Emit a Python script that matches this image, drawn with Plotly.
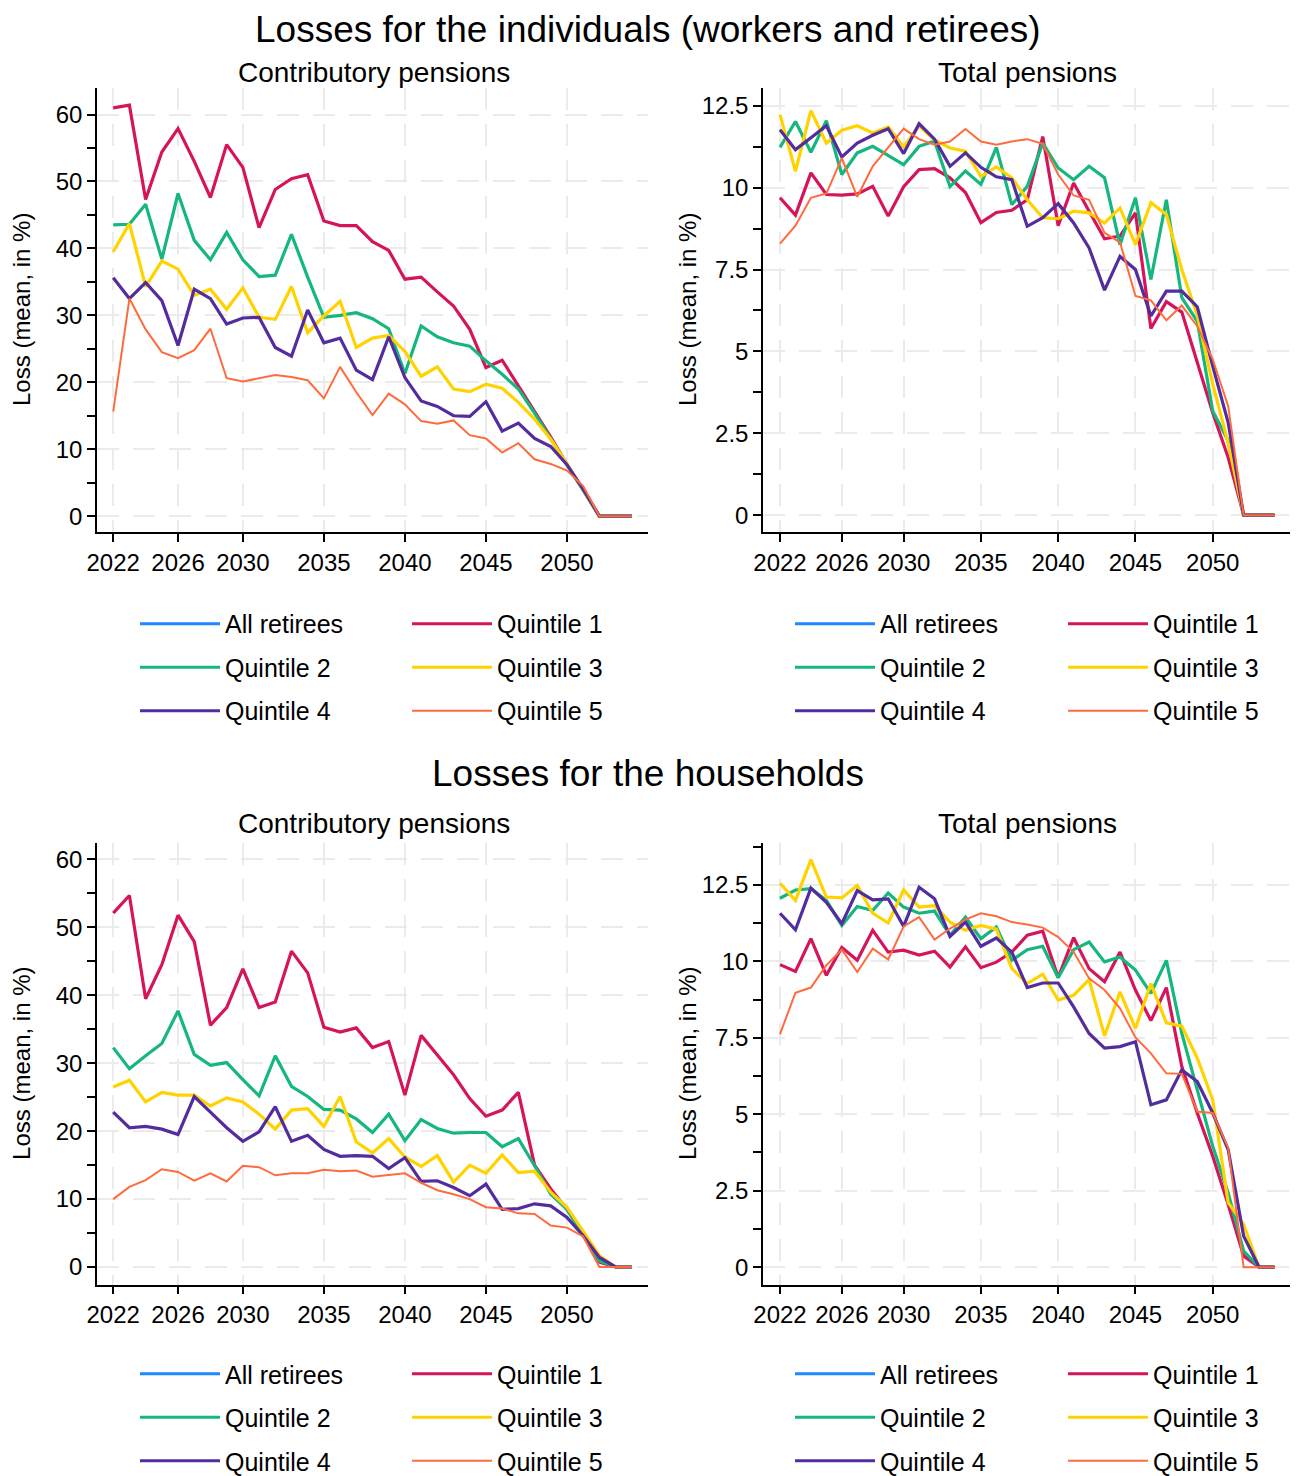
import plotly.graph_objects as go

W, H = 1301, 1476
OFF = 8  # default page body margin

years = list(range(2022, 2055))
series_names = ["All retirees", "Quintile 1", "Quintile 2", "Quintile 3", "Quintile 4", "Quintile 5"]
colors = ["#1E88FF", "#D6145C", "#15B77E", "#FFD200", "#532D9E", "#FF6B3D"]
widths = [3.2, 3.2, 3.2, 3.2, 3.2, 2]

x_tickvals = [2022, 2026, 2030, 2035, 2040, 2045, 2050]

# ---- Individuals, contributory pensions (loss, %) ----
ind_con_all = [None] * 33
ind_con_q1 = [61.0, 61.4, 47.3, 54.4, 57.9, 53.0, 47.6, 55.5, 52.1, 43.1, 48.8, 50.4, 51.0, 44.1, 43.4, 43.4, 41.0,
              39.7, 35.4, 35.7, 33.5, 31.4, 27.9, 22.2, 23.3, 19.5, 15.6, 11.8, 7.7, 4.0, 0, 0, 0]
ind_con_q2 = [43.5, 43.6, 46.6, 38.4, 48.2, 41.2, 38.3, 42.4, 38.3, 35.8, 36.0, 42.1, 35.7, 29.7, 30.0, 30.4, 29.5,
              28.0, 21.3, 28.4, 26.8, 25.9, 25.4, 23.2, 21.2, 19.0, 15.4, 11.6, 7.7, 4.0, 0, 0, 0]
ind_con_q3 = [39.5, 43.7, 34.3, 38.1, 36.9, 33.0, 33.9, 30.9, 34.1, 29.7, 29.4, 34.3, 27.4, 29.9, 32.1, 25.2, 26.6,
              27.0, 24.6, 20.9, 22.3, 19.0, 18.6, 19.7, 19.1, 17.0, 14.5, 11.5, 7.8, 4.0, 0, 0, 0]
ind_con_q4 = [35.6, 32.5, 34.9, 32.2, 25.5, 33.9, 32.5, 28.7, 29.6, 29.7, 25.2, 23.9, 30.8, 25.9, 26.6, 21.8, 20.4,
              26.8, 20.7, 17.2, 16.4, 15.0, 14.9, 17.1, 12.7, 13.9, 11.6, 10.4, 7.7, 4.0, 0, 0, 0]
ind_con_q5 = [15.6, 32.5, 27.9, 24.5, 23.6, 24.8, 28.0, 20.6, 20.1, 20.6, 21.1, 20.8, 20.3, 17.6, 22.3, 18.5, 15.1,
              18.3, 16.7, 14.2, 13.8, 14.3, 12.1, 11.6, 9.5, 10.9, 8.5, 7.8, 6.8, 4.5, 0, 0, 0]

# ---- Individuals, total pensions ----
ind_tot_all = [None] * 33
ind_tot_q1 = [9.69, 9.16, 10.45, 9.79, 9.77, 9.81, 10.04, 9.13, 10.03, 10.55, 10.58, 10.3, 9.85, 8.93, 9.24, 9.31,
              9.63, 11.56, 8.84, 10.14, 9.28, 8.44, 8.52, 9.23, 5.70, 6.52, 6.2, 4.7, 3.13, 1.76, 0, 0, 0]
ind_tot_q2 = [11.23, 12.02, 11.08, 12.04, 10.4, 11.06, 11.26, 10.98, 10.7, 11.26, 11.42, 10.03, 10.51, 10.1, 11.23,
              9.48, 10.04, 11.36, 10.6, 10.24, 10.65, 10.3, 8.26, 9.69, 7.2, 9.63, 6.64, 5.92, 3.18, 2.27, 0, 0, 0]
ind_tot_q3 = [12.23, 10.5, 12.35, 11.36, 11.75, 11.89, 11.67, 11.85, 11.24, 11.89, 11.46, 11.21, 11.11, 10.34, 10.63,
              10.3, 9.63, 9.08, 9.05, 9.28, 9.23, 8.92, 9.38, 8.26, 9.54, 9.18, 7.5, 6.1, 4.0, 2.2, 0, 0, 0]
ind_tot_q4 = [11.77, 11.16, 11.52, 11.89, 10.94, 11.36, 11.6, 11.8, 11.04, 11.95, 11.48, 10.65, 11.06, 10.62, 10.33,
              10.24, 8.82, 9.08, 9.51, 8.92, 8.16, 6.87, 7.9, 7.5, 6.08, 6.84, 6.84, 6.36, 4.55, 2.83, 0, 0, 0]
ind_tot_q5 = [8.29, 8.84, 9.69, 9.82, 10.9, 9.72, 10.65, 11.21, 11.8, 11.48, 11.31, 11.41, 11.79, 11.41, 11.31, 11.41,
              11.48, 11.34, 10.4, 9.76, 9.63, 8.62, 8.33, 6.69, 6.56, 5.95, 6.4, 5.77, 4.76, 3.33, 0, 0, 0]

# ---- Households, contributory pensions ----
hh_con_all = [None] * 33
hh_con_q1 = [52.1, 54.7, 39.5, 44.5, 51.8, 47.9, 35.6, 38.2, 43.9, 38.2, 39.0, 46.5, 43.3, 35.3, 34.6, 35.2, 32.3,
             33.2, 25.3, 34.1, 31.2, 28.3, 24.8, 22.2, 23.1, 25.7, 15.0, 11.5, 8.5, 4.8, 0.7, 0, 0]
hh_con_q2 = [32.3, 29.2, 31.1, 32.9, 37.7, 31.3, 29.7, 30.1, 27.6, 25.2, 31.1, 26.6, 25.1, 23.2, 23.1, 21.8, 19.8,
             22.5, 18.6, 21.7, 20.4, 19.7, 19.8, 19.8, 17.7, 18.9, 14.9, 10.7, 8.5, 4.8, 0.9, 0, 0]
hh_con_q3 = [26.5, 27.5, 24.3, 25.7, 25.3, 25.3, 23.7, 24.9, 24.3, 22.5, 20.3, 23.1, 23.3, 20.7, 25.1, 18.4, 16.8,
             18.9, 16.2, 14.8, 16.4, 12.5, 15.0, 13.8, 16.5, 13.9, 14.1, 11.0, 8.8, 5.2, 1.7, 0, 0]
hh_con_q4 = [22.8, 20.5, 20.7, 20.3, 19.5, 25.1, 22.8, 20.5, 18.5, 19.9, 23.6, 18.5, 19.4, 17.3, 16.3, 16.4, 16.3,
             14.5, 16.1, 12.6, 12.7, 11.7, 10.5, 12.2, 8.5, 8.6, 9.3, 9.0, 7.3, 4.6, 1.4, 0, 0]
hh_con_q5 = [10.0, 11.8, 12.8, 14.4, 14.0, 12.7, 13.8, 12.6, 14.9, 14.7, 13.5, 13.8, 13.8, 14.3, 14.1, 14.2, 13.3,
             13.6, 13.8, 12.4, 11.3, 10.7, 10.0, 8.8, 8.6, 7.9, 7.8, 6.1, 5.8, 4.5, 0, 0, 0]

# ---- Households, total pensions ----
hh_tot_all = [None] * 33
hh_tot_q1 = [9.89, 9.67, 10.74, 9.54, 10.45, 10.03, 11.01, 10.3, 10.36, 10.2, 10.33, 9.81, 10.47, 9.79, 9.97, 10.3,
             10.85, 10.98, 9.47, 10.77, 9.76, 9.33, 10.3, 9.06, 8.06, 9.14, 6.56, 5.04, 3.63, 2.05, 0.37, 0, 0]
hh_tot_q2 = [12.06, 12.33, 12.37, 11.99, 11.17, 11.79, 11.66, 12.23, 11.77, 11.57, 11.64, 10.85, 11.44, 10.74, 11.12,
             10.03, 10.38, 10.49, 9.46, 10.38, 10.63, 9.98, 10.14, 9.71, 8.95, 10.03, 7.64, 5.8, 3.95, 2.43, 0.53, 0, 0]
hh_tot_q3 = [12.55, 11.99, 13.32, 12.1, 12.07, 12.48, 11.57, 11.25, 12.33, 11.77, 11.82, 11.28, 11.01, 11.17, 11.05,
             9.76, 9.27, 9.58, 8.73, 8.89, 9.4, 7.56, 9.0, 7.81, 9.27, 7.99, 7.88, 6.83, 5.47, 2.11, 1.4, 0, 0]
hh_tot_q4 = [11.57, 11.03, 12.39, 11.93, 11.23, 12.31, 12.01, 12.04, 11.14, 12.42, 12.04, 10.81, 11.28, 10.49, 10.76,
             10.3, 9.14, 9.29, 9.29, 8.51, 7.64, 7.16, 7.21, 7.37, 5.31, 5.47, 6.45, 6.07, 5.04, 3.84, 1.02, 0, 0]
hh_tot_q5 = [7.62, 8.97, 9.14, 9.87, 10.38, 9.65, 10.41, 10.06, 11.14, 11.44, 10.71, 11.07, 11.36, 11.57, 11.47, 11.28,
             11.2, 11.1, 10.79, 10.3, 9.44, 9.06, 8.46, 7.51, 6.99, 6.34, 6.32, 5.09, 5.04, 3.9, 0, 0, 0]

panels = [
    dict(data=[ind_con_all, ind_con_q1, ind_con_q2, ind_con_q3, ind_con_q4, ind_con_q5],
         px=(97, 648), py=(88, 534), yrange=(-2.4, 64), dtick=10, minor=5, xrange=(2021, 2055),
         subtitle="Contributory pensions", sub_y=73, leg_y=622, leg_x=(135, 407)),
    dict(data=[ind_tot_all, ind_tot_q1, ind_tot_q2, ind_tot_q3, ind_tot_q4, ind_tot_q5],
         px=(763, 1290), py=(88, 534), yrange=(-0.52, 13.05), dtick=2.5, minor=1.25, xrange=(2020.9, 2055),
         subtitle="Total pensions", sub_y=73, leg_y=622, leg_x=(790, 1063)),
    dict(data=[hh_con_all, hh_con_q1, hh_con_q2, hh_con_q3, hh_con_q4, hh_con_q5],
         px=(97, 648), py=(846, 1289), yrange=(-2.6, 62.4), dtick=10, minor=5, xrange=(2021, 2055),
         subtitle="Contributory pensions", sub_y=826, leg_y=1375, leg_x=(135, 407)),
    dict(data=[hh_tot_all, hh_tot_q1, hh_tot_q2, hh_tot_q3, hh_tot_q4, hh_tot_q5],
         px=(763, 1290), py=(846, 1289), yrange=(-0.57, 13.86), dtick=2.5, minor=1.25, xrange=(2020.9, 2055),
         subtitle="Total pensions", sub_y=826, leg_y=1375, leg_x=(790, 1063)),
]

FONT = "Liberation Sans, Arial, sans-serif"
TICK_SIZE = 24
LEG_SIZE = 25


def fx(p):
    return (p - OFF) / W


def fy(p):
    return 1 - (p - OFF) / H


fig = go.Figure()
layout = dict(
    width=W, height=H,
    margin=dict(l=0, r=0, t=0, b=0),
    paper_bgcolor="white", plot_bgcolor="white",
    font=dict(family=FONT, color="black"),
    annotations=[],
)

grid_style = dict(showgrid=True, gridcolor="#EBEBEB", gridwidth=2, griddash="22px,14px")

for k, p in enumerate(panels):
    n = "" if k == 0 else str(k + 1)
    xa, ya = "x" + n, "y" + n
    for j, (name, ser) in enumerate(zip(series_names, p["data"])):
        leg_idx = 2 * k + (0 if j % 2 == 0 else 1)
        leg_name = "legend" if leg_idx == 0 else "legend" + str(leg_idx + 1)
        fig.add_trace(go.Scatter(
            x=years, y=ser, mode="lines", name=name,
            line=dict(color=colors[j], width=widths[j]),
            xaxis=xa, yaxis=ya, legend=leg_name,
            legendgroup=f"p{k}_{j}", showlegend=True, hoverinfo="x+y+name",
        ))
    layout["xaxis" + n] = dict(
        domain=[fx(p["px"][0]), fx(p["px"][1])], anchor=ya, range=list(p["xrange"]),
        tickmode="array", tickvals=x_tickvals, ticks="outside", ticklen=8, tickwidth=1.5, tickcolor="black",
        showline=True, linecolor="black", linewidth=1.5, zeroline=False,
        tickfont=dict(size=TICK_SIZE, family=FONT, color="black"), automargin=False, **grid_style,
    )
    layout["yaxis" + n] = dict(
        domain=[fy(p["py"][1]), fy(p["py"][0])], anchor=xa, range=list(p["yrange"]),
        tick0=0, dtick=p["dtick"], ticks="outside", ticklen=8, tickwidth=1.5, tickcolor="black",
        minor=dict(dtick=p["minor"], tick0=0, ticks="outside", ticklen=8, tickwidth=1.5, tickcolor="black",
                   showgrid=False),
        showline=True, linecolor="black", linewidth=1.5, zeroline=False,
        tickfont=dict(size=TICK_SIZE, family=FONT, color="black"), automargin=False, **grid_style,
    )
    # legends: two columns
    for c in range(2):
        leg_idx = 2 * k + c
        leg_name = "legend" if leg_idx == 0 else "legend" + str(leg_idx + 1)
        layout[leg_name] = dict(
            x=fx(p["leg_x"][c]), y=fy(p["leg_y"] - 19), xanchor="left", yanchor="top",
            orientation="v", traceorder="grouped", tracegroupgap=8, itemwidth=80,
            font=dict(size=LEG_SIZE, family=FONT, color="black"), bgcolor="rgba(0,0,0,0)",
            borderwidth=0, itemclick=False, itemdoubleclick=False,
        )
    cx = (p["px"][0] + p["px"][1]) / 2
    layout["annotations"].append(dict(
        text=p["subtitle"], x=fx(cx + 1), y=fy(p["sub_y"]), xref="paper", yref="paper",
        xanchor="center", yanchor="middle", showarrow=False, font=dict(size=28, family=FONT, color="black")))
    layout["annotations"].append(dict(
        text="Loss (mean, in %)", x=fx(p["px"][0] - 75), y=fy((p["py"][0] + p["py"][1]) / 2),
        xref="paper", yref="paper", xanchor="center", yanchor="middle", textangle=-90, showarrow=False,
        font=dict(size=24, family=FONT, color="black")))

# main titles (kept fully inside the drawing area)
layout["annotations"].append(dict(
    text="Losses for the individuals (workers and retirees)", x=fx(648), y=fy(8), xref="paper", yref="paper",
    xanchor="center", yanchor="top", showarrow=False, borderpad=0,
    font=dict(size=37, family=FONT, color="black")))
layout["annotations"].append(dict(
    text="Losses for the households", x=fx(648), y=fy(776), xref="paper", yref="paper",
    xanchor="center", yanchor="middle", showarrow=False, font=dict(size=37, family=FONT, color="black")))

fig.update_layout(**layout)
fig.write_html("out.html", config={"displayModeBar": False})
